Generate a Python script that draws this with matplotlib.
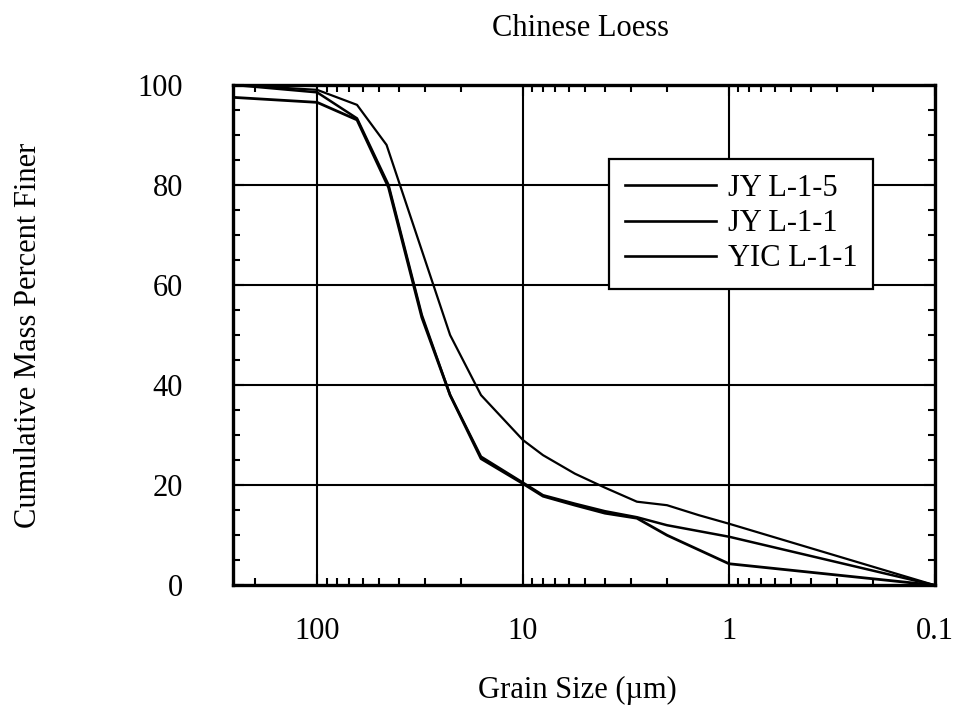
import matplotlib
matplotlib.use("Agg")
import matplotlib.pyplot as plt
from matplotlib.ticker import FixedLocator, LogLocator, MultipleLocator, NullFormatter

plt.rcParams['font.family'] = ['Liberation Serif', 'DejaVu Serif']

# grain size (um) and cumulative mass percent finer
size_jy15 = [256, 100, 64, 46, 22.6, 16, 10, 8, 5.6, 4, 2.8, 2, 1.4, 1, 0.1]
finer_jy15 = [100, 99, 96, 88, 50, 38, 29, 26, 22.3, 19.5, 16.7, 16, 14, 12.3, 0]

size_jy11 = [256, 100, 64, 45, 31, 22.6, 16, 10, 8, 5.6, 4, 2.8, 2, 1, 0.1]
finer_jy11 = [100, 98.5, 93.3, 80, 54, 38, 25.7, 20.5, 18, 16.3, 14.8, 13.6, 12, 9.7, 0]

size_yic = [256, 100, 64, 45, 31, 22.6, 16, 10, 8, 5.6, 4, 2.8, 2, 1, 0.1]
finer_yic = [97.5, 96.5, 93, 79.5, 53.5, 38, 25.3, 20.3, 17.8, 16, 14.4, 13.4, 10, 4.3, 0]

labels = ['JY L-1-5', 'JY L-1-1', 'YIC L-1-1']
xticks = [100, 10, 1, 0.1]
xticklabels = ['100', '10', '1', '0.1']
yticks = [0, 20, 40, 60, 80, 100]

fig = plt.figure(figsize=(9.55, 7.19), dpi=100)
ax = fig.add_axes([0.244, 0.186, 0.735, 0.696])

ax.plot(size_jy15, finer_jy15, color='black', lw=1.6, label=labels[0])
ax.plot(size_jy11, finer_jy11, color='black', lw=1.8, label=labels[1])
ax.plot(size_yic, finer_yic, color='black', lw=2.0, label=labels[2])

ax.set_xscale('log')
ax.set_xlim(256, 0.1)
ax.set_ylim(0, 100)

ax.xaxis.set_major_locator(FixedLocator(xticks))
ax.set_xticklabels(xticklabels)
ax.xaxis.set_minor_locator(LogLocator(base=10, subs=range(2, 10)))
ax.xaxis.set_minor_formatter(NullFormatter())
ax.set_yticks(yticks)
ax.yaxis.set_minor_locator(MultipleLocator(5))

# grid only on the inner lines
for v in [100, 10, 1]:
    ax.axvline(v, color='black', lw=1.5, zorder=1)
for v in [20, 40, 60, 80]:
    ax.axhline(v, color='black', lw=1.5, zorder=1)

ax.tick_params(which='both', direction='in', top=True, right=True, width=1.5)
ax.tick_params(which='major', length=8)
ax.tick_params(which='minor', length=5)
ax.tick_params(axis='x', which='major', labelsize=22, pad=23)
ax.tick_params(axis='y', which='major', labelsize=22, pad=36)
for s in ax.spines.values():
    s.set_linewidth(2.4)

leg = ax.legend(loc='upper left', bbox_to_anchor=(0.536, 0.852), fontsize=22,
                frameon=True, fancybox=False, framealpha=1, edgecolor='black',
                handlelength=3.0, handletextpad=0.4, labelspacing=0.2,
                borderpad=0.5, borderaxespad=0)
leg.get_frame().set_linewidth(1.6)
for line in leg.get_lines():
    line.set_linewidth(1.9)

fig.text(0.608, 0.961, 'Chinese Loess', ha='center', va='center', fontsize=22)
fig.text(0.605, 0.04, 'Grain Size (µm)', ha='center', va='center', fontsize=22)
fig.text(0.03, 0.534, 'Cumulative Mass Percent Finer', ha='center', va='center',
         rotation=90, fontsize=22)

fig.savefig('out.png', dpi=100)
